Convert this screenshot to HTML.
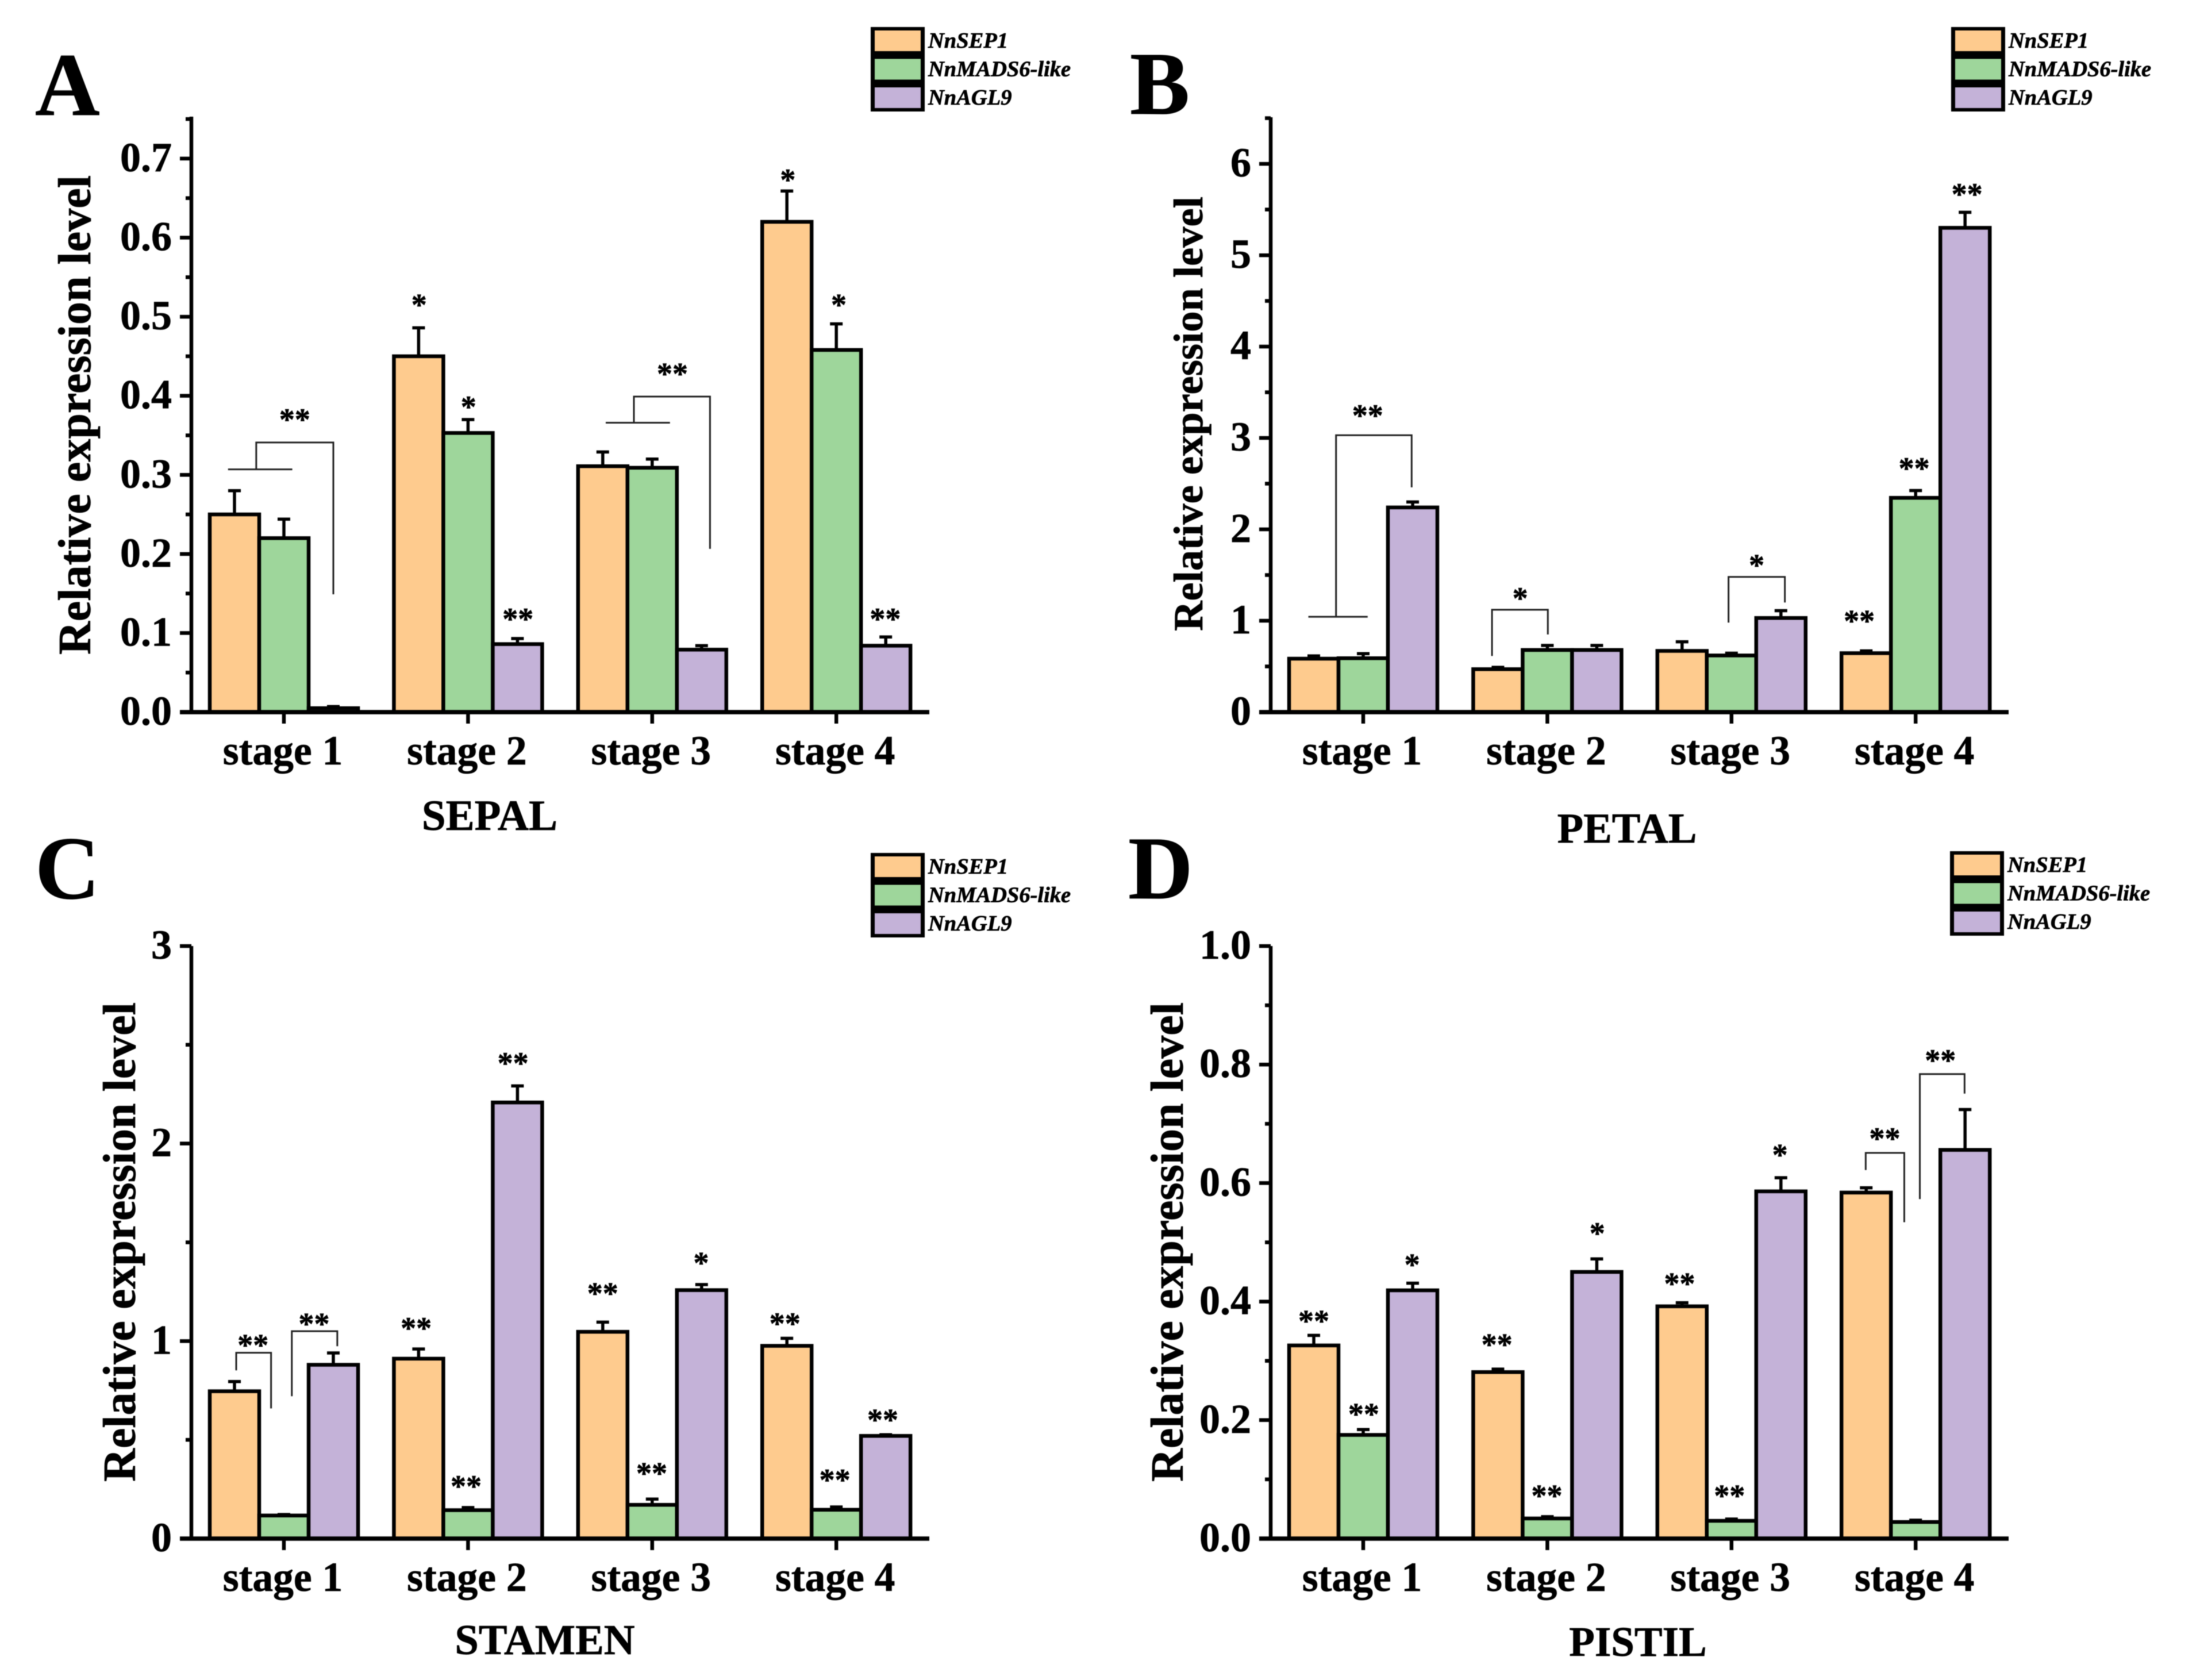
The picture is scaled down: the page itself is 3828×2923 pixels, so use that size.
<!DOCTYPE html>
<html>
<head>
<meta charset="utf-8">
<title>Relative expression level in floral organs</title>
<style>
html,body{margin:0;padding:0;background:#fff;}
svg{display:block;filter:blur(0.7px);}
text{font-family:"Liberation Serif",serif;font-weight:bold;fill:#000;stroke:#000;stroke-width:0.7px;}
</style>
</head>
<body>
<svg id="figure" xmlns="http://www.w3.org/2000/svg" width="3828" height="2923" viewBox="0 0 3828 2923"></svg>
<script>
const categories = ['stage 1', 'stage 2', 'stage 3', 'stage 4'];
const seriesNames = ['NnSEP1', 'NnMADS6-like', 'NnAGL9'];
const seriesColors = ['#fecb8e', '#9ed69b', '#c4b2d8'];

// SEPAL
const sepalSep1 = [0.25, 0.45, 0.311, 0.62];
const sepalSep1Err = [0.03, 0.036, 0.018, 0.039];
const sepalMads6 = [0.22, 0.353, 0.309, 0.458];
const sepalMads6Err = [0.024, 0.017, 0.011, 0.033];
const sepalAgl9 = [0.005, 0.086, 0.079, 0.084];
const sepalAgl9Err = [0.002, 0.007, 0.005, 0.011];
const sepalTicks = ['0.0', '0.1', '0.2', '0.3', '0.4', '0.5', '0.6', '0.7'];
const sepalStars = [[0, 1.22, 0.375, '**'], [1, 0.01, 0.52, '*'], [1, 1.01, 0.391, '*'], [1, 2.01, 0.123, '**'], [2, 1.41, 0.433, '**'], [3, 0.02, 0.678, '*'], [3, 1.05, 0.52, '*'], [3, 1.99, 0.123, '**']];
const sepalBrackets = [
  [0, [[-0.13, 0.307], [1.17, 0.307]]],
  [0, [[0.44, 0.307], [0.44, 0.341], [2.0, 0.341], [2.0, 0.149]]],
  [2, [[0.06, 0.366], [1.36, 0.366]]],
  [2, [[0.63, 0.366], [0.63, 0.399], [2.17, 0.399], [2.17, 0.2065]]]
];

// PETAL
const petalSep1 = [0.585, 0.47, 0.67, 0.645];
const petalSep1Err = [0.03, 0.02, 0.1, 0.025];
const petalMads6 = [0.59, 0.68, 0.62, 2.345];
const petalMads6Err = [0.05, 0.05, 0.025, 0.08];
const petalAgl9 = [2.24, 0.68, 1.03, 5.3];
const petalAgl9Err = [0.06, 0.05, 0.08, 0.17];
const petalTicks = ['0', '1', '2', '3', '4', '5', '6'];
const petalStars = [[0, 1.09, 3.29, '**'], [1, 0.45, 1.29, '*'], [2, 1.51, 1.65, '*'], [3, 2.04, 5.71, '**'], [3, 0.97, 2.71, '**'], [3, -0.14, 1.04, '**']];
const petalBrackets = [
  [0, [[-0.11, 1.043], [1.09, 1.043]]],
  [0, [[0.45, 1.043], [0.45, 3.03], [1.98, 3.03], [1.98, 2.46]]],
  [1, [[-0.12, 0.615], [-0.12, 1.12], [1.01, 1.12], [1.01, 0.85]]],
  [2, [[0.94, 0.98], [0.94, 1.48], [2.08, 1.48], [2.08, 1.2]]]
];

// STAMEN
const stamenSep1 = [0.746, 0.911, 1.047, 0.976];
const stamenSep1Err = [0.049, 0.049, 0.049, 0.038];
const stamenMads6 = [0.117, 0.144, 0.171, 0.146];
const stamenMads6Err = [0.005, 0.013, 0.029, 0.014];
const stamenAgl9 = [0.88, 2.208, 1.258, 0.52];
const stamenAgl9Err = [0.06, 0.084, 0.028, 0.006];
const stamenTicks = ['0', '1', '2', '3'];
const stamenStars = [[0, 0.375, 1.0, '**'], [0, 1.61, 1.107, '**'], [1, -0.05, 1.085, '**'], [1, 0.96, 0.285, '**'], [1, 1.91, 2.427, '**'], [2, 0.0, 1.261, '**'], [2, 0.99, 0.35, '**'], [2, 1.99, 1.416, '*'], [3, -0.04, 1.109, '**'], [3, 0.97, 0.317, '**'], [3, 1.94, 0.621, '**']];
const stamenBrackets = [
  [0, [[0.035, 0.852], [0.035, 0.941], [0.74, 0.941], [0.74, 0.659]]],
  [0, [[1.16, 0.721], [1.16, 1.05], [2.08, 1.05], [2.08, 0.974]]]
];

// PISTIL
const pistilSep1 = [0.326, 0.281, 0.392, 0.584];
const pistilSep1Err = [0.017, 0.005, 0.006, 0.008];
const pistilMads6 = [0.175, 0.034, 0.03, 0.028];
const pistilMads6Err = [0.009, 0.003, 0.003, 0.003];
const pistilAgl9 = [0.419, 0.45, 0.586, 0.656];
const pistilAgl9Err = [0.012, 0.022, 0.023, 0.068];
const pistilTicks = ['0.0', '0.2', '0.4', '0.6', '0.8', '1.0'];
const pistilStars = [[0, 0.0, 0.374, '**'], [0, 1.01, 0.217, '**'], [0, 1.99, 0.469, '*'], [1, -0.02, 0.334, '**'], [1, 0.99, 0.079, '**'], [1, 2.01, 0.522, '*'], [2, -0.05, 0.437, '**'], [2, 0.96, 0.079, '**'], [2, 1.98, 0.654, '*'], [3, 0.375, 0.682, '**'], [3, 1.5, 0.814, '**']];
const pistilBrackets = [
  [3, [[-0.01, 0.622], [-0.01, 0.651], [0.77, 0.651], [0.77, 0.534]]],
  [3, [[1.085, 0.573], [1.085, 0.784], [1.99, 0.784], [1.99, 0.751]]]
];

const NS = 'http://www.w3.org/2000/svg';
const root = document.getElementById('figure');

function make(tag, parent, props) {
  const el = document.createElementNS(NS, tag);
  for (const k in props) el.setAttribute(k, props[k]);
  parent.appendChild(el);
  return el;
}

function drawPanel(p) {
  const g = make('g', root, {});
  
  

  const barW = 86, step = 320.4;
  const yPx = v => p.y0 - v * (p.y0 - p.yTop) / p.max;
  const xPx = (stage, slot) => p.x0 + stage * step + (slot - 1) * barW;

  const letter = make('text', g, {x: p.letterX, y: p.letterY, 'font-size': 156});
  
  
  letter.textContent = p.letter;

  p.values.forEach((vals, s) => {
    vals.forEach((v, i) => {
      const cx = xPx(i, s);
      const top = yPx(v + p.errs[s][i]);
      const stem = make('line', g, {x1: cx, x2: cx, y1: yPx(v), y2: top, stroke: '#000', 'stroke-width': 5.5});
      
      
      const cap = make('line', g, {x1: cx - 11, x2: cx + 11, y1: top, y2: top, stroke: '#000', 'stroke-width': 5.5});
      
      
    });
  });

  p.values.forEach((vals, s) => {
    vals.forEach((v, i) => {
      const cx = xPx(i, s);
      const bar = make('rect', g, {x: cx - barW / 2, y: yPx(v), width: barW, height: p.y0 - yPx(v), fill: seriesColors[s], stroke: '#000', 'stroke-width': 6.5});
      
      
    });
  });

  p.brackets.forEach(b => {
    const pts = b[1].map(pt => xPx(b[0], pt[0]) + ',' + yPx(pt[1])).join(' ');
    const line = make('polyline', g, {points: pts, fill: 'none', stroke: '#222', 'stroke-width': 3});
    
    
  });

  p.stars.forEach(st => {
    const t = make('text', g, {x: xPx(st[0], st[1]), y: yPx(st[2]) + 25, 'font-size': 54, 'text-anchor': 'middle'});
    
    
    t.textContent = st[3];
  });

  const yAxis = make('line', g, {x1: p.axisX, x2: p.axisX, y1: p.axisTop, y2: p.y0, stroke: '#000', 'stroke-width': 6.5});
  
  

  const xAxis = make('line', g, {x1: p.axisX - 20, x2: p.axisX + 1284, y1: p.y0, y2: p.y0, stroke: '#000', 'stroke-width': 7.5});
  
  

  p.ticks.forEach((label, i) => {
    const v = parseFloat(label);
    const y = yPx(v);
    const tick = make('line', g, {x1: p.axisX - 20, x2: p.axisX, y1: y, y2: y, stroke: '#000', 'stroke-width': 6.5});
    
    
    const t = make('text', g, {x: p.axisX - 34, y: y + 22, 'font-size': 72, 'text-anchor': 'end'});
    
    
    t.textContent = label;
    const gap = parseFloat(p.ticks[1]) - parseFloat(p.ticks[0]);
    const mv = v + gap / 2;
    if (mv <= p.max) {
      const minor = make('line', g, {x1: p.axisX - 10, x2: p.axisX, y1: yPx(mv), y2: yPx(mv), stroke: '#000', 'stroke-width': 6.5});
      
      
    }
  });

  categories.forEach((c, i) => {
    const cx = xPx(i, 1);
    const tick = make('line', g, {x1: cx, x2: cx, y1: p.y0, y2: p.y0 + 20, stroke: '#000', 'stroke-width': 6.5});
    
    
    const t = make('text', g, {x: cx - 2, y: p.y0 + 91, 'font-size': 71.5, 'text-anchor': 'middle'});
    
    
    t.textContent = c;
  });

  const yTitle = make('text', g, {transform: 'translate(' + p.yTitleX + ' ' + p.yTitleY + ') rotate(-90)', 'font-size': p.yTitleSize, 'text-anchor': 'middle'});
  
  
  yTitle.textContent = 'Relative expression level';

  const xTitle = make('text', g, {x: p.titleX, y: p.titleY, 'font-size': p.titleSize, 'text-anchor': 'middle'});
  
  
  xTitle.textContent = p.title;

  const frame = make('rect', g, {x: p.legendX + 3, y: p.legendY + 3, width: 88, height: 141, fill: '#000', stroke: '#000', 'stroke-width': 6});
  
  
  seriesNames.forEach((name, s) => {
    const sw = make('rect', g, {x: p.legendX + 7, y: p.legendY + 6 + s * 49.5, width: 80, height: 36, fill: seriesColors[s]});
    
    
    const t = make('text', g, {x: p.legendX + 100, y: p.legendY + 36 + s * 49.5, 'font-size': 38.5, 'font-style': 'italic'});
    
    
    t.textContent = name;
  });
}

drawPanel({key: 'sepal', letter: 'A', letterX: 61, letterY: 200, title: 'SEPAL', titleSize: 75, titleX: 852, titleY: 1444,
  x0: 494, y0: 1239, yTop: 203, axisTop: 203, axisX: 333, max: 0.753,
  values: [sepalSep1, sepalMads6, sepalAgl9], errs: [sepalSep1Err, sepalMads6Err, sepalAgl9Err],
  ticks: sepalTicks, stars: sepalStars, brackets: sepalBrackets,
  yTitleX: 157, yTitleY: 722, yTitleSize: 80, legendX: 1515, legendY: 47});

drawPanel({key: 'petal', letter: 'B', letterX: 1966, letterY: 198, title: 'PETAL', titleSize: 74.5, titleX: 2831, titleY: 1466,
  x0: 2372, y0: 1239, yTop: 204, axisTop: 204, axisX: 2211, max: 6.51,
  values: [petalSep1, petalMads6, petalAgl9], errs: [petalSep1Err, petalMads6Err, petalAgl9Err],
  ticks: petalTicks, stars: petalStars, brackets: petalBrackets,
  yTitleX: 2092, yTitleY: 720, yTitleSize: 72.5, legendX: 3395, legendY: 47});

drawPanel({key: 'stamen', letter: 'C', letterX: 61, letterY: 1563, title: 'STAMEN', titleSize: 74.5, titleX: 948, titleY: 2878,
  x0: 494, y0: 2677, yTop: 1646, axisTop: 1646, axisX: 333, max: 3,
  values: [stamenSep1, stamenMads6, stamenAgl9], errs: [stamenSep1Err, stamenMads6Err, stamenAgl9Err],
  ticks: stamenTicks, stars: stamenStars, brackets: stamenBrackets,
  yTitleX: 235, yTitleY: 2161, yTitleSize: 80, legendX: 1515, legendY: 1484});

drawPanel({key: 'pistil', letter: 'D', letterX: 1963, letterY: 1563, title: 'PISTIL', titleSize: 73, titleX: 2850, titleY: 2881,
  x0: 2372, y0: 2677, yTop: 1646, axisTop: 1646, axisX: 2211, max: 1,
  values: [pistilSep1, pistilMads6, pistilAgl9], errs: [pistilSep1Err, pistilMads6Err, pistilAgl9Err],
  ticks: pistilTicks, stars: pistilStars, brackets: pistilBrackets,
  yTitleX: 2058, yTitleY: 2161, yTitleSize: 80, legendX: 3393, legendY: 1481});
</script>
</body>
</html>
